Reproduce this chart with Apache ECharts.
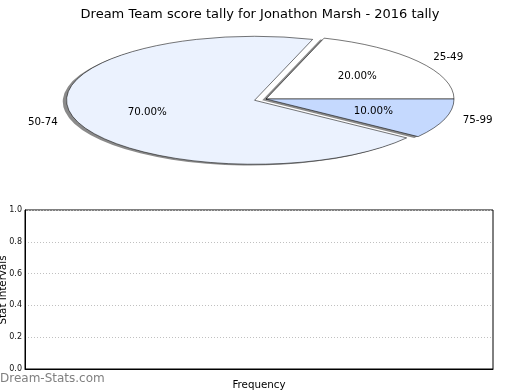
<!DOCTYPE html>
<html>
<head>
<meta charset="utf-8">
<script src="https://cdn.jsdelivr.net/npm/echarts@6/dist/echarts.min.js"></script>
<style>html,body{margin:0;padding:0;background:#fff}#c{width:520px;height:390px}</style>
</head>
<body>
<div id="c"></div>
<script>
const titleText = 'Dream Team score tally for Jonathon Marsh - 2016 tally';
const categories = ['25-49', '50-74', '75-99'];
const values = [20, 70, 10];
const explode = [0, 0.064, 0];
const yTicks = [0, 0.2, 0.4, 0.6, 0.8, 1.0];
const xAxisName = 'Frequency';
const yAxisName = 'Stat Intervals';
const watermark = 'Dream-Stats.com';

const sliceColors = ['#ffffff', '#ebf2fe', '#c5d9fe'];
const FONT = '"DejaVu Sans", sans-serif';
const CX = 266, CY = 99, RX = 188, RY = 64;
const SC = RY / RX;
const total = values.reduce((a, b) => a + b, 0);
const starts = [];
let acc = 0;
values.forEach(v => { starts.push(acc); acc += v; });

function geom(i) {
  const a1 = starts[i] / total * 2 * Math.PI;
  const a2 = (starts[i] + values[i]) / total * 2 * Math.PI;
  const mid = (a1 + a2) / 2;
  const ex = explode[i] * RX;
  const ox = ex * Math.cos(mid), oy = -ex * Math.sin(mid);
  return {a1, a2, mid, ox, oy};
}

function renderShadow(params, api) {
  const i = params.dataIndex;
  const g = geom(i);
  return {
    type: 'group', x: CX - 3.8, y: CY + 1.3, scaleY: SC,
    children: [{
      type: 'sector',
      shape: {cx: g.ox, cy: g.oy, r0: 0, r: RX, startAngle: -g.a2, endAngle: -g.a1, clockwise: true},
      style: {fill: 'rgba(60,60,60,0.6)', stroke: null}
    }]
  };
}

function renderWedge(params, api) {
  const i = params.dataIndex;
  const g = geom(i);
  const v = api.value(0);
  const px = CX + g.ox + 0.6 * RX * Math.cos(g.mid);
  const py = CY + g.oy * SC - 0.6 * RY * Math.sin(g.mid);
  const lx = CX + g.ox + 1.1 * RX * Math.cos(g.mid);
  const ly = CY + g.oy * SC - 1.1 * RY * Math.sin(g.mid);
  return {
    type: 'group',
    children: [
      {
        type: 'group', x: CX, y: CY, scaleY: SC,
        children: [{
          type: 'sector',
          shape: {cx: g.ox, cy: g.oy, r0: 0, r: RX, startAngle: -g.a2, endAngle: -g.a1, clockwise: true},
          style: {fill: sliceColors[i], stroke: '#000', lineWidth: 0.8, strokeNoScale: true}
        }]
      },
      {
        type: 'text', x: px, y: py,
        style: {text: (v / total * 100).toFixed(2) + '%', fill: '#000', font: '10.3px ' + FONT, align: 'center', verticalAlign: 'middle'}
      },
      {
        type: 'text', x: lx, y: ly,
        style: {text: categories[i], fill: '#000', font: '10.3px ' + FONT, align: Math.cos(g.mid) > 0 ? 'left' : 'right', verticalAlign: 'middle'}
      }
    ]
  };
}

const chart = echarts.init(document.getElementById('c'), null, {renderer: 'canvas'});
chart.setOption({
  animation: false,
  backgroundColor: '#fff',
  title: {
    text: titleText, left: 'center', top: 3,
    textStyle: {fontFamily: FONT, fontSize: 13, fontWeight: 'normal', color: '#000'}
  },
  grid: {left: 25, right: 27, top: 210, bottom: 21, containLabel: false, outerBoundsMode: 'none',
         show: true, borderColor: '#000', borderWidth: 1, backgroundColor: 'transparent'},
  xAxis: {
    type: 'value', min: 0, max: 1,
    name: xAxisName, nameLocation: 'middle', nameGap: 11,
    nameTextStyle: {fontFamily: FONT, fontSize: 10.3, color: '#000'},
    axisLine: {show: true, lineStyle: {color: '#000', width: 1}},
    axisTick: {show: false}, axisLabel: {show: false}, splitLine: {show: false}
  },
  yAxis: {
    type: 'value', min: yTicks[0], max: yTicks[yTicks.length - 1], interval: 0.2,
    axisLine: {show: true, lineStyle: {color: '#000', width: 1}},
    axisTick: {show: false},
    axisLabel: {fontFamily: FONT, fontSize: 8, color: '#111', margin: 3, formatter: v => v.toFixed(1)},
    splitLine: {show: true, lineStyle: {color: '#c0c0c0', width: 1, type: [1, 2]}}
  },
  graphic: [
    {
      type: 'text', x: 3, y: 290, rotation: Math.PI / 2,
      style: {text: yAxisName, fill: '#000', font: '10.3px ' + FONT, align: 'center', verticalAlign: 'middle'}
    },
    {
      type: 'text', left: 0, top: 373,
      style: {text: watermark, fill: '#808080', font: '12px ' + FONT}
    }
  ],
  series: [
    {type: 'custom', coordinateSystem: 'none', renderItem: renderShadow, data: values.map(v => [v]), z: 1, silent: true},
    {type: 'custom', coordinateSystem: 'none', renderItem: renderWedge, data: values.map(v => [v]), z: 2, silent: true},
    {type: 'line', data: [], xAxisIndex: 0, yAxisIndex: 0}
  ]
});
</script>
</body>
</html>
